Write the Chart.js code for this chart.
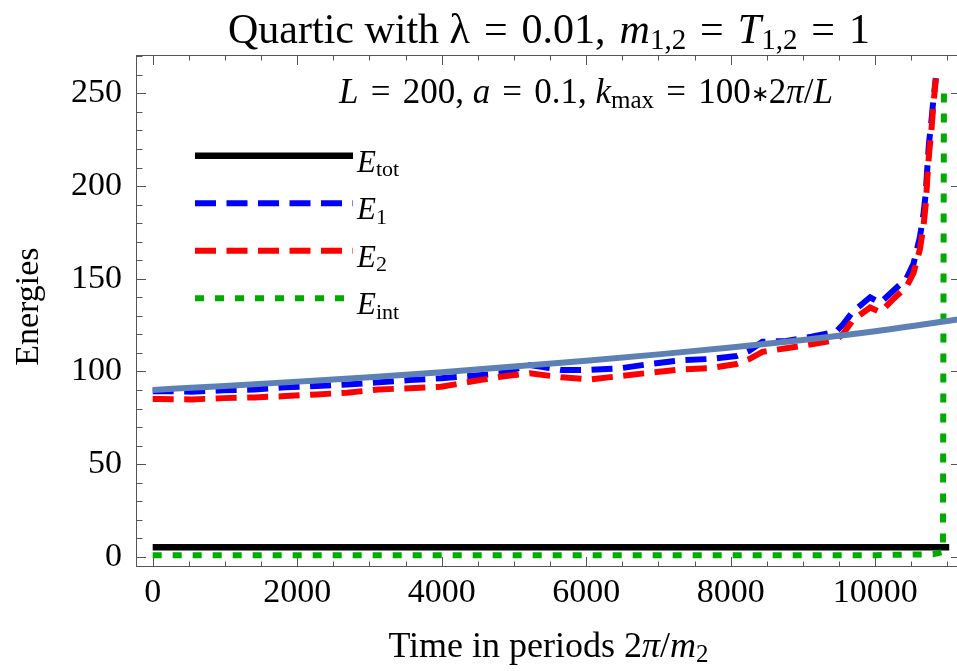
<!DOCTYPE html>
<html>
<head>
<meta charset="utf-8">
<script src="https://cdn.jsdelivr.net/npm/chart.js@4.4.1/dist/chart.umd.min.js"></script>
<style>
  html, body { margin: 0; padding: 0; background: #fff; overflow: hidden; }
  #wrap { width: 961px; height: 671px; position: relative; }
</style>
</head>
<body>
<div id="wrap"><canvas id="grafica"></canvas></div>
<script>
// Valores
const tiempo = [0, 100, 540, 980, 1410, 1840, 2270, 2690, 3130, 3560,
  3990, 4390, 4810, 5220, 5660, 6050, 6470, 6880, 7300, 7700,
  8080, 8250, 8440, 8770, 9120, 9460, 9560, 9690, 9930, 10070,
  10250, 10430, 10530, 10620, 10670, 10700, 10720, 10745, 10780, 10805, 10840];
const energiaE1 = [89.3, 89.4, 89.1, 89.8, 90.3, 91.4, 92.1, 93.0, 94.1, 95.4,
  96.3, 97.5, 99.0, 103.5, 100.8, 100.8, 101.7, 104.0, 106.0, 106.7,
  108.3, 111.0, 116.0, 116.4, 118.7, 121.5, 125.5, 132.2, 140.0, 137.0,
  143.5, 150.0, 158.0, 172.7, 185.3, 196.1, 208.7, 223.1, 235.7, 246.5, 258.2];
const energiaE2 = [85.1, 85.1, 84.9, 85.6, 86.0, 86.7, 87.6, 88.5, 90.3, 90.9,
  91.7, 94.4, 97.1, 99.0, 96.8, 95.7, 97.5, 99.3, 101.1, 101.7,
  104.0, 106.5, 110.6, 112.5, 114.6, 117.0, 120.5, 127.7, 134.5, 132.0,
  139.0, 145.5, 153.0, 166.0, 179.0, 190.0, 203.0, 217.0, 231.0, 243.5, 258.0];
const tiempoTot = [0, 11025];
const energiaTot = [5.1, 5.1];
const tiempoInt = [0, 5000, 10000, 10800, 10938, 10952];
const energiaInt = [0.8, 0.8, 0.9, 1.4, 2.6, 253];
const tiempoAjuste = [0, 1000, 2000, 3000, 4000, 5000, 6000, 7000, 8000, 9000, 10000, 11000, 11300];
const energiaAjuste = [90.0, 92.2, 94.5, 96.9, 99.6, 102.6, 105.8, 109.2, 112.9, 117.0, 121.7, 127.2, 129.0];
const ticksX = [0, 2000, 4000, 6000, 8000, 10000];
const ticksY = [0, 50, 100, 150, 200, 250];

const SERIF = '"Liberation Serif", "Times New Roman", serif';
const puntos = (xs, ys) => xs.map((x, i) => ({ x: x, y: ys[i] }));

// Texto con cursivas y subindices; '~' es un espacio que se estira
const fontOf = (p, size) => (p.i ? 'italic ' : '') + Math.round(size * (p.sub ? 0.7 : (p.s || 1))) + 'px ' + SERIF;
const drawRich = (ctx, parts, x, y, size, opts = {}) => {
  let natural = 0, spaces = 0;
  parts.forEach(p => {
    ctx.font = fontOf(p, size);
    natural += ctx.measureText(p.t.replace(/~/g, ' ')).width;
    spaces += (p.t.match(/~/g) || []).length;
  });
  const extra = (opts.width && spaces) ? (opts.width - natural) / spaces : 0;
  const total = natural + extra * spaces;
  let cx = opts.align === 'center' ? x - total / 2 : x;
  ctx.textAlign = 'left';
  ctx.textBaseline = 'alphabetic';
  ctx.fillStyle = '#000';
  parts.forEach(p => {
    ctx.font = fontOf(p, size);
    const dy = p.sub ? size * 0.15 : (p.dy || 0);
    p.t.split(/(~)/).forEach(tok => {
      if (tok === '') return;
      if (tok === '~') { cx += ctx.measureText(' ').width + extra; return; }
      ctx.fillText(tok, cx, y + dy);
      cx += ctx.measureText(tok).width;
    });
  });
};

const marco = {
  id: 'marco',
  beforeDatasetsDraw(chart) {
    const { ctx, chartArea: a, scales: { x, y } } = chart;
    ctx.save();
    ctx.strokeStyle = '#555';
    ctx.lineWidth = 1;
    ctx.strokeRect(a.left + 0.5, a.top + 0.5, a.right - a.left - 1, a.bottom - a.top - 1);
    ctx.beginPath();
    for (let v = 0; v <= 11000; v += 500) {
      const px = Math.round(x.getPixelForValue(v)) + 0.5;
      const len = ticksX.includes(v) ? 10 : 5.5;
      ctx.moveTo(px, a.bottom); ctx.lineTo(px, a.bottom - len);
      ctx.moveTo(px, a.top); ctx.lineTo(px, a.top + len);
    }
    for (let v = 0; v <= 270; v += 10) {
      const py = Math.round(y.getPixelForValue(v)) + 0.5;
      const mayor = ticksY.includes(v);
      ctx.moveTo(a.left, py); ctx.lineTo(a.left + (mayor ? 10 : 6.5), py);
      if (mayor) { ctx.moveTo(a.right, py); ctx.lineTo(a.right - 10, py); }
    }
    ctx.stroke();
    ctx.restore();
  },
  afterDraw(chart) {
    const { ctx } = chart;
    ctx.save();
    // titulo
    drawRich(ctx, [{ t: 'Quartic with λ~=~0.01,~' }, { t: 'm', i: 1 }, { t: '1,2', sub: 1 },
      { t: '~=~' }, { t: 'T', i: 1 }, { t: '1,2', sub: 1 }, { t: '~=~1' }], 549, 43, 42, { align: 'center', width: 642 });
    // anotacion
    drawRich(ctx, [{ t: 'L', i: 1 }, { t: '~=~200, ' }, { t: 'a', i: 1 }, { t: '~=~0.1, ' }, { t: 'k', i: 1 },
      { t: 'max', sub: 1 }, { t: '~=~100' }, { t: '∗', s: 0.62, dy: -2 }, { t: '2' }, { t: 'π', i: 1 }, { t: '/' },
      { t: 'L', i: 1 }], 339, 103, 35, { width: 494 });
    // eje x
    drawRich(ctx, [{ t: 'Time in periods 2' }, { t: 'π', i: 1 }, { t: '/' }, { t: 'm', i: 1 }, { t: '2', sub: 1 }],
      548.5, 657, 36, { align: 'center' });
    // eje y
    ctx.save();
    ctx.translate(38, 306.7);
    ctx.rotate(-Math.PI / 2);
    ctx.font = '34px ' + SERIF;
    ctx.textAlign = 'center';
    ctx.textBaseline = 'alphabetic';
    ctx.fillStyle = '#000';
    ctx.fillText('Energies', 0, 0);
    ctx.restore();
    // leyenda
    const items = [
      { ds: 4, parts: [{ t: 'E', i: 1 }, { t: 'tot', sub: 1 }], y: 155.7 },
      { ds: 3, parts: [{ t: 'E', i: 1 }, { t: '1', sub: 1 }], y: 203.3 },
      { ds: 2, parts: [{ t: 'E', i: 1 }, { t: '2', sub: 1 }], y: 250.7 },
      { ds: 1, parts: [{ t: 'E', i: 1 }, { t: 'int', sub: 1 }], y: 298.3 }
    ];
    items.forEach(it => {
      const d = chart.data.datasets[it.ds];
      ctx.save();
      ctx.strokeStyle = d.borderColor;
      ctx.lineWidth = d.borderWidth;
      ctx.lineCap = 'butt';
      ctx.setLineDash(d.borderDash || []);
      ctx.beginPath();
      ctx.moveTo(195, it.y);
      ctx.lineTo(353, it.y);
      ctx.stroke();
      ctx.restore();
      drawRich(ctx, it.parts, 357, it.y + 16, 31);
    });
    ctx.restore();
  }
};

const config = {
  type: 'line',
  data: {
    datasets: [
      { label: 'ajuste', data: puntos(tiempoAjuste, energiaAjuste), borderColor: '#5E81B5', borderWidth: 6,
        cubicInterpolationMode: 'monotone', order: 0 },
      { label: 'Eint', data: puntos(tiempoInt, energiaInt), borderColor: '#00AA00', borderWidth: 6,
        borderDash: [9, 11], order: 1 },
      { label: 'E2', data: puntos(tiempo, energiaE2), borderColor: '#FF0000', borderWidth: 6,
        borderDash: [21, 10.5], order: 2 },
      { label: 'E1', data: puntos(tiempo, energiaE1), borderColor: '#0000FF', borderWidth: 6,
        borderDash: [21, 10.5], order: 3 },
      { label: 'Etot', data: puntos(tiempoTot, energiaTot), borderColor: '#000000', borderWidth: 6.5, order: 4 }
    ]
  },
  options: {
    responsive: true,
    maintainAspectRatio: false,
    animation: false,
    layout: { padding: { top: 55, left: 0, right: 0, bottom: 0 } },
    elements: { point: { radius: 0 }, line: { tension: 0, borderCapStyle: 'butt', fill: false } },
    plugins: { legend: { display: false }, tooltip: { enabled: false } },
    scales: {
      x: {
        type: 'linear', min: -231, max: 11188,
        grid: { display: false, drawTicks: false }, border: { display: false },
        afterBuildTicks: (s) => { s.ticks = ticksX.map(v => ({ value: v })); },
        afterFit: (s) => { s.height = 104; },
        ticks: { font: { family: SERIF, size: 34 }, color: '#000', padding: 6, autoSkip: false,
          maxRotation: 0, callback: (v) => String(v) }
      },
      y: {
        type: 'linear', min: -5.5, max: 270.7,
        grid: { display: false, drawTicks: false }, border: { display: false },
        afterBuildTicks: (s) => { s.ticks = ticksY.map(v => ({ value: v })); },
        afterFit: (s) => { s.width = 136; },
        ticks: { font: { family: SERIF, size: 34 }, color: '#000', padding: 14, autoSkip: false,
          callback: (v) => String(v) }
      }
    }
  },
  plugins: [marco]
};

new Chart(document.getElementById('grafica'), config);
</script>
</body>
</html>
